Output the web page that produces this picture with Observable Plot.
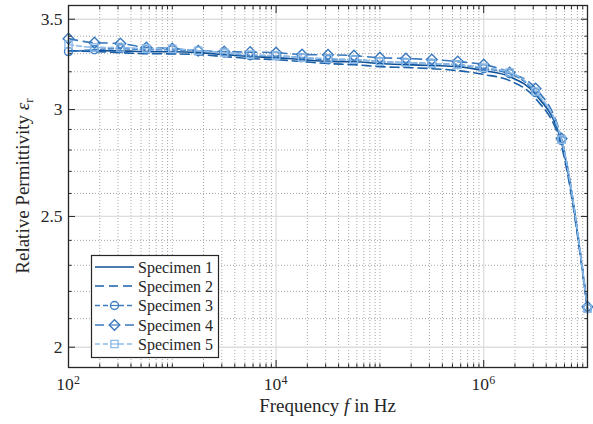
<!DOCTYPE html>
<html>
<head>
<meta charset="utf-8">
<script src="https://cdn.jsdelivr.net/npm/d3@7"></script>
<script src="https://cdn.jsdelivr.net/npm/@observablehq/plot@0.6"></script>
<style>
  html, body { margin: 0; padding: 0; background: #ffffff; }
  #chart { width: 593px; height: 424px; }
  #chart svg { display: block; }
</style>
</head>
<body>
<div id="chart"></div>
<script>
// ---- data ----
const frequencies = [100, 177.8, 316.2, 562.3, 1000, 1778, 3162, 5623, 10000, 17783, 31623, 56234,
  100000, 177828, 316228, 562341, 1000000, 1778279, 3162278, 5623413, 10000000];

const specimen1 = [3.317, 3.317, 3.316, 3.312, 3.311, 3.306, 3.295, 3.284, 3.278, 3.267, 3.257, 3.255,
  3.245, 3.239, 3.234, 3.228, 3.206, 3.174, 3.078, 2.836, 2.136];
const specimen2 = [3.317, 3.312, 3.306, 3.300, 3.299, 3.295, 3.284, 3.273, 3.267, 3.256, 3.245, 3.239,
  3.228, 3.223, 3.217, 3.206, 3.185, 3.152, 3.057, 2.817, 2.133];
const specimen3 = [3.312, 3.323, 3.329, 3.323, 3.322, 3.317, 3.306, 3.289, 3.288, 3.278, 3.267, 3.266,
  3.256, 3.250, 3.245, 3.239, 3.217, 3.190, 3.088, 2.846, 2.136];
const specimen4 = [3.386, 3.363, 3.358, 3.335, 3.329, 3.317, 3.312, 3.309, 3.306, 3.295, 3.294, 3.289,
  3.278, 3.273, 3.267, 3.256, 3.239, 3.196, 3.110, 2.855, 2.143];
const specimen5 = [3.352, 3.336, 3.335, 3.329, 3.328, 3.317, 3.306, 3.295, 3.289, 3.278, 3.273, 3.267,
  3.256, 3.250, 3.245, 3.239, 3.223, 3.196, 3.094, 2.850, 2.136];

const seriesNames = ["Specimen 1", "Specimen 2", "Specimen 3", "Specimen 4", "Specimen 5"];
const seriesValues = [specimen1, specimen2, specimen3, specimen4, specimen5];

const xTicksMajor = [1e2, 1e4, 1e6];
const xTickLabelBase = "10";
const yTicksMajor = [2, 2.5, 3, 3.5];
const yTicksMinor = [2.1, 2.2, 2.3, 2.4, 2.6, 2.7, 2.8, 2.9, 3.1, 3.2, 3.3, 3.4];
const xTicksMinor = [];
for (let k = 2; k <= 6; k++) for (let m = 1; m <= 9; m++) {
  const v = m * Math.pow(10, k);
  if (!xTicksMajor.includes(v)) xTicksMinor.push(v);
}

// ---- styles ----
const styles = [
  {color: "#0f5197", dash: null, symbol: null},
  {color: "#1b60a8", dash: "9,5", symbol: null},
  {color: "#3d7ec3", dash: "5,3", symbol: "circle", r: 4},
  {color: "#3a79bd", dash: "9,6", symbol: "diamond2", r: 4.8},
  {color: "#8fbce8", dash: "5,3", symbol: "square", r: 4.1}
];
const axisColor = "#262626";
const fontFamily = "'Liberation Serif', 'DejaVu Serif', serif";

const tables = seriesValues.map((vals, i) =>
  frequencies.map((f, j) => ({f, v: vals[j], name: seriesNames[i]})));

const lineMarks = [];
const dotMarks = [];
tables.forEach((t, i) => {
  const s = styles[i];
  lineMarks.push(Plot.line(t, {x: "f", y: "v", stroke: s.color, strokeWidth: 1.6,
    strokeDasharray: s.dash || undefined, curve: "monotone-x"}));
  if (s.symbol) dotMarks.push(Plot.dot(t, {x: "f", y: "v", symbol: s.symbol, r: s.r,
    stroke: s.color, fill: "none", strokeWidth: 1.4}));
});

const tickStyle = {stroke: axisColor, strokeWidth: 1, tickFormat: () => "", label: null};

const chart = Plot.plot({
  width: 593,
  height: 424,
  marginLeft: 68,
  marginRight: 6,
  marginTop: 5,
  marginBottom: 57,
  x: {type: "log", domain: [1e2, 1e7], axis: null},
  y: {type: "log", domain: [1.932, 3.583], axis: null},
  style: {fontFamily, fontSize: "17px", background: "#ffffff", color: axisColor},
  marks: [
    Plot.gridX(xTicksMinor, {stroke: "#a8a8a8", strokeOpacity: 1, strokeWidth: 1, strokeDasharray: "1,2"}),
    Plot.gridY(yTicksMinor, {stroke: "#a8a8a8", strokeOpacity: 1, strokeWidth: 1, strokeDasharray: "1,2"}),
    Plot.gridX(xTicksMajor, {stroke: "#dedede", strokeOpacity: 1, strokeWidth: 1.3}),
    Plot.gridY(yTicksMajor, {stroke: "#dedede", strokeOpacity: 1, strokeWidth: 1.3}),
    ...lineMarks,
    ...dotMarks,
    Plot.frame({stroke: axisColor, strokeWidth: 1.3}),
    // tick marks, inward, on all four sides
    Plot.axisX(xTicksMajor, {anchor: "bottom", tickSize: -7, ...tickStyle}),
    Plot.axisX(xTicksMinor, {anchor: "bottom", tickSize: -3.5, ...tickStyle}),
    Plot.axisX(xTicksMajor, {anchor: "top", tickSize: -7, ...tickStyle}),
    Plot.axisX(xTicksMinor, {anchor: "top", tickSize: -3.5, ...tickStyle}),
    Plot.axisY(yTicksMajor, {anchor: "left", tickSize: -7, ...tickStyle}),
    Plot.axisY(yTicksMinor, {anchor: "left", tickSize: -3.5, ...tickStyle}),
    Plot.axisY(yTicksMajor, {anchor: "right", tickSize: -7, ...tickStyle}),
    Plot.axisY(yTicksMinor, {anchor: "right", tickSize: -3.5, ...tickStyle}),
    // tick labels
    Plot.axisY(yTicksMajor, {anchor: "left", tickSize: 0, tickPadding: 6, fontSize: 17.5,
      tickFormat: d => String(d), label: null, fill: axisColor}),
    Plot.axisX(xTicksMajor, {anchor: "bottom", tickSize: 0, tickPadding: 10.5, fontSize: 17.5, dx: -3.5,
      tickFormat: () => xTickLabelBase, label: null, fill: axisColor}),
    Plot.axisX(xTicksMajor, {anchor: "bottom", tickSize: 0, tickPadding: 7.5, fontSize: 12, dx: 8.5,
      tickFormat: d => String(Math.round(Math.log10(d))), label: null, fill: axisColor})
  ]
});

document.getElementById("chart").appendChild(chart);

// ---- axis titles and legend (layout) ----
const svg = d3.select(chart);

const xt = svg.append("text")
  .attr("x", 327.5).attr("y", 412)
  .attr("text-anchor", "middle")
  .attr("font-family", fontFamily).attr("font-size", 19).attr("fill", axisColor);
xt.append("tspan").text("Frequency ");
xt.append("tspan").attr("font-style", "italic").text("f");
xt.append("tspan").text(" in Hz");

const yt = svg.append("text")
  .attr("transform", "translate(29,186) rotate(-90)")
  .attr("text-anchor", "middle")
  .attr("font-family", fontFamily).attr("font-size", 19).attr("fill", axisColor);
yt.append("tspan").text("Relative Permittivity ");
yt.append("tspan").attr("font-style", "italic").text("ε");
yt.append("tspan").attr("font-size", 13).attr("dy", 4).text("r");

// legend
const lg = svg.append("g");
lg.append("rect")
  .attr("x", 91.5).attr("y", 255.5).attr("width", 127).attr("height", 102)
  .attr("fill", "#ffffff").attr("stroke", axisColor).attr("stroke-width", 1.2);
const rowY = [267, 286, 305.5, 325, 344];
const symbolTypes = {circle: d3.symbolCircle, diamond2: d3.symbolDiamond2, square: d3.symbolSquare};
seriesNames.forEach((name, i) => {
  const s = styles[i];
  const y = rowY[i];
  lg.append("line")
    .attr("x1", 95).attr("x2", 134).attr("y1", y).attr("y2", y)
    .attr("stroke", s.color).attr("stroke-width", 1.6)
    .attr("stroke-dasharray", s.dash || null);
  if (s.symbol) {
    lg.append("path")
      .attr("transform", `translate(114.5,${y})`)
      .attr("d", d3.symbol().type(symbolTypes[s.symbol]).size(Math.PI * s.r * s.r)())
      .attr("fill", "#ffffff").attr("stroke", s.color).attr("stroke-width", 1.4);
    lg.append("line")
      .attr("x1", 110).attr("x2", 119).attr("y1", y).attr("y2", y)
      .attr("stroke", s.color).attr("stroke-width", 1.2);
  }
  lg.append("text")
    .attr("x", 138).attr("y", y + 5.5)
    .attr("text-anchor", "start")
    .attr("font-family", fontFamily).attr("font-size", 16).attr("fill", axisColor)
    .text(name);
});
</script>
</body>
</html>
